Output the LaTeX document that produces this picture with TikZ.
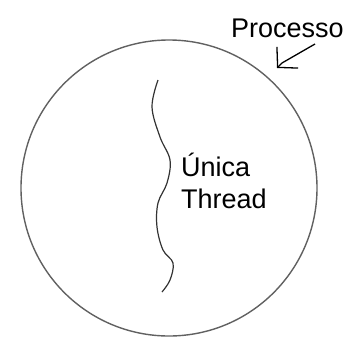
\documentclass[tikz,border=0pt]{standalone}
\usepackage{fontspec}
\setmainfont{Liberation Sans}
\usepackage{tikz}
\usetikzlibrary{positioning,arrows.meta}

\begin{document}
\begin{tikzpicture}[x=1pt, y=-1pt,
  lbl/.style={inner sep=0pt, font=\fontsize{27}{32}\selectfont, align=left},
  arr/.style={-{Straight Barb[length=14pt, width=30pt]}, line width=1.3pt, black}]
\useasboundingbox (0,0) rectangle (348,338);
\node[circle, draw=black!62, line width=1.4pt, minimum size=296pt, inner sep=0pt] (proc) at (169,188) {};
\node[lbl, anchor=base west] (plbl) at (231,37) {Processo};
\node[lbl, anchor=base west] (tlbl) at (181,208) {Única\\Thread};
\coordinate (afrom) at (315,44);
\coordinate (abend) at (282,63);
\coordinate (ato) at (277,68);
\draw[arr] (afrom) -- (abend) -- (ato);
% the thread
\draw[black!80, line width=1.2pt] plot[smooth, tension=0.6] coordinates {
  (158,80) (152,107) (160,137) (170,160) (167,183) (158,203)
  (157,227) (163,250) (173,263) (170,280) (162,292)};
\end{tikzpicture}
\end{document}
